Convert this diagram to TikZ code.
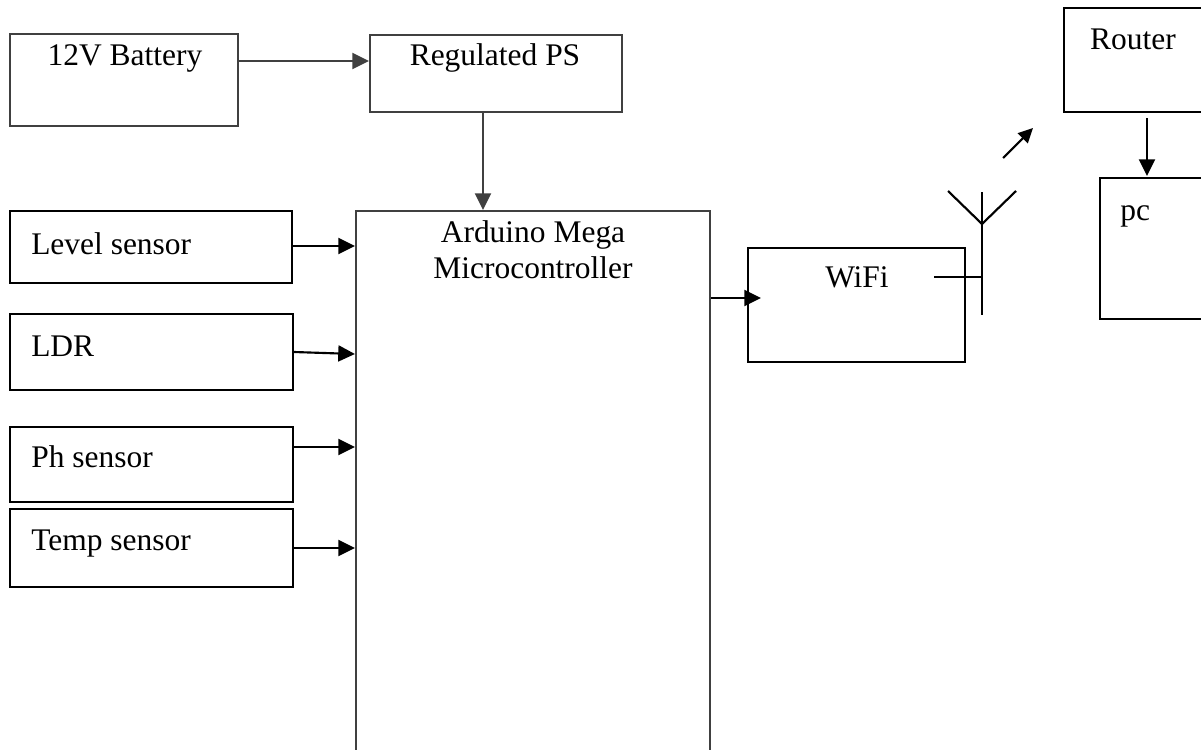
\documentclass[tikz,border=0pt]{standalone}
\usepackage{fontspec}
\setmainfont{Liberation Serif}
\usetikzlibrary{arrows.meta,calc}
\tikzset{
  box/.style={draw=#1, line width=1.6pt, rectangle, inner sep=0pt, fill=none},
  box/.default={black},
  lbl/.style={inner sep=0pt, font=\fontsize{23.6}{27}\selectfont},
  arr/.style={draw=#1, line width=1.6pt, -{Triangle[length=12.5pt,width=12pt]}},
  arr/.default={black},
  wire/.style={draw=black, line width=1.6pt}
}
\colorlet{dg}{black!75}
\newcommand\pxbox[6]{\node[box=#6, minimum width=#4*0.75pt, minimum height=#5*0.75pt] (#1) at (#2,#3) {};}
\begin{document}
\begin{tikzpicture}[x=0.75pt,y=-0.75pt]
\useasboundingbox (0,0) rectangle (1201,749);
\clip (0,0) rectangle (1201,749);
\fill[white] (0,0) rectangle (1201,749);
% boxes
\pxbox{bat}{124}{80}{228}{92}{dg}
\pxbox{ps}{496}{73.5}{252}{77}{dg}
\pxbox{ard}{533}{505.5}{354}{589}{dg}
\pxbox{lvl}{151}{247}{282}{72}{black}
\pxbox{ldr}{151.5}{352}{283}{76}{black}
\pxbox{ph}{151.5}{464.5}{283}{75}{black}
\pxbox{tmp}{151.5}{548}{283}{78}{black}
\pxbox{wifi}{856.5}{305}{217}{114}{black}
\pxbox{rtr}{1162}{60}{196}{104}{black}
\pxbox{pc}{1180}{248.5}{160}{141}{black}
% labels
\node[lbl, anchor=base] (tbat) at (125,65) {12V Battery};
\node[lbl, anchor=base] (tps) at (495,65) {Regulated PS};
\node[lbl, anchor=base] (tard1) at (533,242) {Arduino Mega};
\node[lbl, anchor=base] (tard2) at (533,278) {Microcontroller};
\node[lbl, anchor=base west] (tlvl) at (31,254) {Level sensor};
\node[lbl, anchor=base west] (tldr) at (31,356) {LDR};
\node[lbl, anchor=base west] (tph) at (31,467) {Ph sensor};
\node[lbl, anchor=base west] (ttmp) at (31,550) {Temp sensor};
\node[lbl, anchor=base] (twifi) at (857,287) {WiFi};
\node[lbl, anchor=base] (trtr) at (1133,50) {Router};
\node[lbl, anchor=base west] (tpc) at (1120,220) {pc};
% connectors
\draw[arr=dg] ($(bat.east)+(0,-19)$) -- ($(ps.west)+(0,-12.5)$);
\draw[arr=dg] ($(ps.south)+(-13,0)$) -- ($(ard.north)+(-50,0)$);
\draw[arr] ($(lvl.east)+(0,-1)$) -- ($(ard.west)+(0,-259.5)$);
\draw[arr] (ldr.east) -- ($(ard.west)+(0,-151.5)$);
\draw[arr] ($(ph.east)+(0,-17.5)$) -- ($(ard.west)+(0,-58.5)$);
\draw[arr] (tmp.east) -- ($(ard.west)+(0,42.5)$);
\draw[arr] ($(ard.east)+(0,-207.5)$) -- ($(wifi.west)+(14,-7)$);
\draw[arr] ($(rtr.south)+(-15,5)$) -- ($(pc.north)+(-33,-1)$);
% antenna
\coordinate (mtop) at (982,192);
\coordinate (mbot) at (982,315);
\coordinate (mv) at (982,224);
\coordinate (al) at (948,191);
\coordinate (ar) at (1016,191);
\coordinate (feed) at (934,277);
\coordinate (feedm) at (982,277);
\draw[wire] (mtop) -- (mbot);
\draw[wire] (al) -- (mv) -- (ar);
\draw[wire] (feed) -- (feedm);
% wireless arrow
\coordinate (ws) at (1003,158);
\coordinate (we) at (1033,128);
\draw[wire, -{Triangle[length=11pt,width=10.5pt]}] (ws) -- (we);
\end{tikzpicture}
\end{document}
